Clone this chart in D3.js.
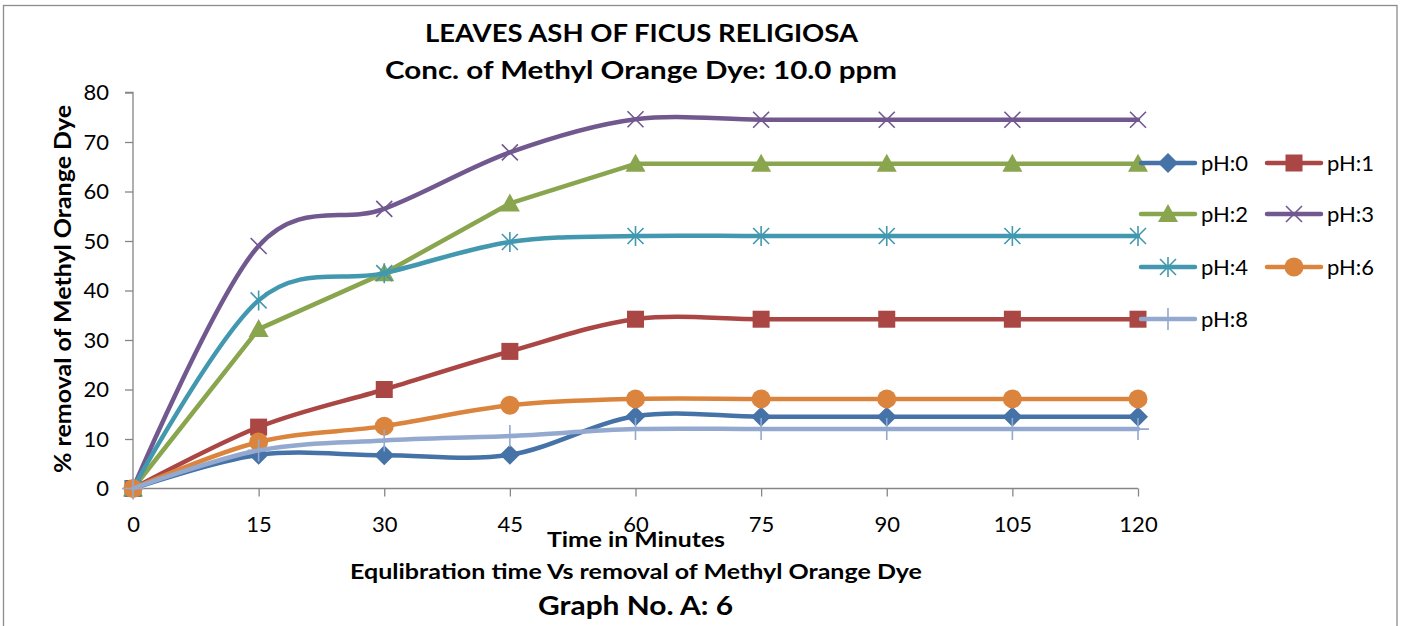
<!DOCTYPE html>
<html>
<head>
<meta charset="utf-8">
<script src="https://cdn.jsdelivr.net/npm/d3@7"></script>
<style>
  html, body { margin: 0; padding: 0; background: #fff; }
  svg { display: block; }
  text { font-family: Lato, "Open Sans", "Liberation Sans", sans-serif; fill: #000; }
</style>
</head>
<body>
<svg id="chart" width="1402" height="626"></svg>
<script>
// ---------- data ----------
const times = [0, 15, 30, 45, 60, 75, 90, 105, 120];
const seriesNames = ["pH:0", "pH:1", "pH:2", "pH:3", "pH:4", "pH:6", "pH:8"];
const pH0 = [0, 6.8, 6.7, 6.8, 14.6, 14.5, 14.5, 14.5, 14.5];
const pH1 = [0, 12.4, 20.0, 27.7, 34.2, 34.2, 34.2, 34.2, 34.2];
const pH2 = [0, 32.2, 43.5, 57.6, 65.6, 65.6, 65.6, 65.6, 65.6];
const pH3 = [0, 49.0, 56.5, 67.9, 74.6, 74.5, 74.5, 74.5, 74.5];
const pH4 = [0, 38.0, 43.5, 49.8, 51.0, 51.0, 51.0, 51.0, 51.0];
const pH6 = [0, 9.4, 12.6, 16.8, 18.1, 18.1, 18.1, 18.1, 18.1];
const pH8 = [0, 7.7, 9.7, 10.6, 12.0, 12.0, 12.0, 12.0, 12.0];
const smoothed = [true, true, false, true, true, true, true];
const yTicks = [0, 10, 20, 30, 40, 50, 60, 70, 80];
const titleText = "LEAVES ASH OF FICUS RELIGIOSA";
const subtitleText = "Conc. of Methyl Orange Dye: 10.0 ppm";
const yLabelText = "% removal of Methyl Orange Dye";
const xLabelText = "Time in Minutes";
const captionText = "Equlibration time Vs removal of Methyl Orange Dye";
const graphNoText = "Graph No. A: 6";

// ---------- styles ----------
const colors = ["#4572A7", "#AA4643", "#89A54E", "#71588F", "#4198AF", "#DB843D", "#93A9CF"];
const markers = ["diamond", "square", "triangle", "x", "star", "circle", "plus"];
const allValues = [pH0, pH1, pH2, pH3, pH4, pH6, pH8];

const svg = d3.select("#chart");
const x = d3.scaleLinear().domain([0, 120]).range([133, 1138]);
const y = d3.scaleLinear().domain([0, 80]).range([488.5, 92.5]);

// outer frame
svg.append("rect").attr("x", 3.5).attr("y", 5.5).attr("width", 1393.5).attr("height", 700)
  .attr("fill", "none").attr("stroke", "#8c8c8c").attr("stroke-width", 1.3);

// ---------- axes ----------
const axisColor = "#868686";
const yAxis = svg.append("g").attr("transform", "translate(133,0)")
  .call(d3.axisLeft(y).tickValues(yTicks).tickSize(8).tickPadding(16).tickFormat(d3.format("d")));
yAxis.selectAll("path, line").attr("stroke", axisColor).attr("stroke-width", 1.3);
yAxis.select(".domain").attr("d", `M-8,${y(80)}H0V${y(0)}`);
yAxis.selectAll("text").style("font-size", "22px").style("font-family", "Lato, sans-serif").attr("fill", "#000");

const xAxis = svg.append("g").attr("transform", `translate(0,${y(0)})`)
  .call(d3.axisBottom(x).tickValues(times).tickSize(8).tickPadding(20).tickFormat(d3.format("d")));
xAxis.selectAll("path, line").attr("stroke", axisColor).attr("stroke-width", 1.3);
xAxis.select(".domain").attr("d", `M${x(0)},0H${x(120)}`);
xAxis.selectAll("text").style("font-size", "22px").style("font-family", "Lato, sans-serif").attr("fill", "#000");

// ---------- marker drawing ----------
function drawMarker(g, type, cx, cy, color) {
  const m = g.append("g").attr("transform", `translate(${cx},${cy})`);
  switch (type) {
    case "diamond":
      m.append("path").attr("d", "M0,-10L10,0L0,10L-10,0Z").attr("fill", color); break;
    case "square":
      m.append("rect").attr("x", -8.5).attr("y", -8.5).attr("width", 17).attr("height", 17).attr("fill", color); break;
    case "triangle":
      m.append("path").attr("d", "M0,-10L10,8L-10,8Z").attr("fill", color); break;
    case "x":
      m.append("path").attr("d", "M-8,-8L8,8M-8,8L8,-8").attr("stroke", color).attr("stroke-width", 1.6).attr("fill", "none"); break;
    case "star":
      m.append("path").attr("d", "M-8,-8L8,8M-8,8L8,-8M0,-10V10").attr("stroke", color).attr("stroke-width", 1.6).attr("fill", "none"); break;
    case "circle":
      m.append("circle").attr("r", 9.5).attr("fill", color); break;
    case "plus":
      m.append("path").attr("d", "M0,-11V11M-11,0H11").attr("stroke", color).attr("stroke-width", 1.6).attr("fill", "none"); break;
  }
}

// ---------- series ----------
const smoothLine = d3.line().curve(d3.curveCardinal.tension(0)).x(d => x(d[0])).y(d => y(d[1]));
const straightLine = d3.line().curve(d3.curveLinear).x(d => x(d[0])).y(d => y(d[1]));
const plot = svg.append("g");
allValues.forEach((vals, i) => {
  const pts = times.map((t, j) => [t, vals[j]]);
  const g = plot.append("g");
  g.append("path").attr("d", (smoothed[i] ? smoothLine : straightLine)(pts)).attr("fill", "none").attr("stroke", colors[i])
    .attr("stroke-width", 4.5).attr("stroke-linecap", "round").attr("stroke-linejoin", "round");
  pts.forEach(p => drawMarker(g, markers[i], x(p[0]), y(p[1]), colors[i]));
});

// ---------- legend ----------
const legendCols = [1141, 1267];
const legendRows = [163, 214, 267, 319];
const legend = svg.append("g");
seriesNames.forEach((name, i) => {
  const lx = legendCols[i % 2], ly = legendRows[Math.floor(i / 2)];
  const g = legend.append("g");
  g.append("line").attr("x1", lx).attr("x2", lx + 54).attr("y1", ly).attr("y2", ly)
    .attr("stroke", colors[i]).attr("stroke-width", 4.5).attr("stroke-linecap", "round");
  drawMarker(g, markers[i], lx + 27, ly, colors[i]);
  g.append("text").attr("x", lx + 60).attr("y", ly + 8).style("font-size", "22px").text(name);
});

// ---------- titles ----------
function fitText(txt, cx, baseline, size, width, bold, rotate) {
  const t = svg.append("text").attr("text-anchor", "middle")
    .style("font-size", size + "px").style("font-weight", bold ? "bold" : "normal")
    .attr("textLength", width).attr("lengthAdjust", "spacingAndGlyphs").text(txt);
  if (rotate) t.attr("transform", `translate(${cx},${baseline}) rotate(-90)`);
  else t.attr("x", cx).attr("y", baseline);
  return t;
}
fitText(titleText, 641.5, 42, 24, 433, true);
fitText(subtitleText, 641, 79, 24, 512, true);
fitText(yLabelText, 71, 289, 22, 368, true, true);
fitText(xLabelText, 636, 547, 21, 178, true);
fitText(captionText, 636, 579, 21, 572, true);
fitText(graphNoText, 635.5, 615, 27, 195, true);
</script>
</body>
</html>
